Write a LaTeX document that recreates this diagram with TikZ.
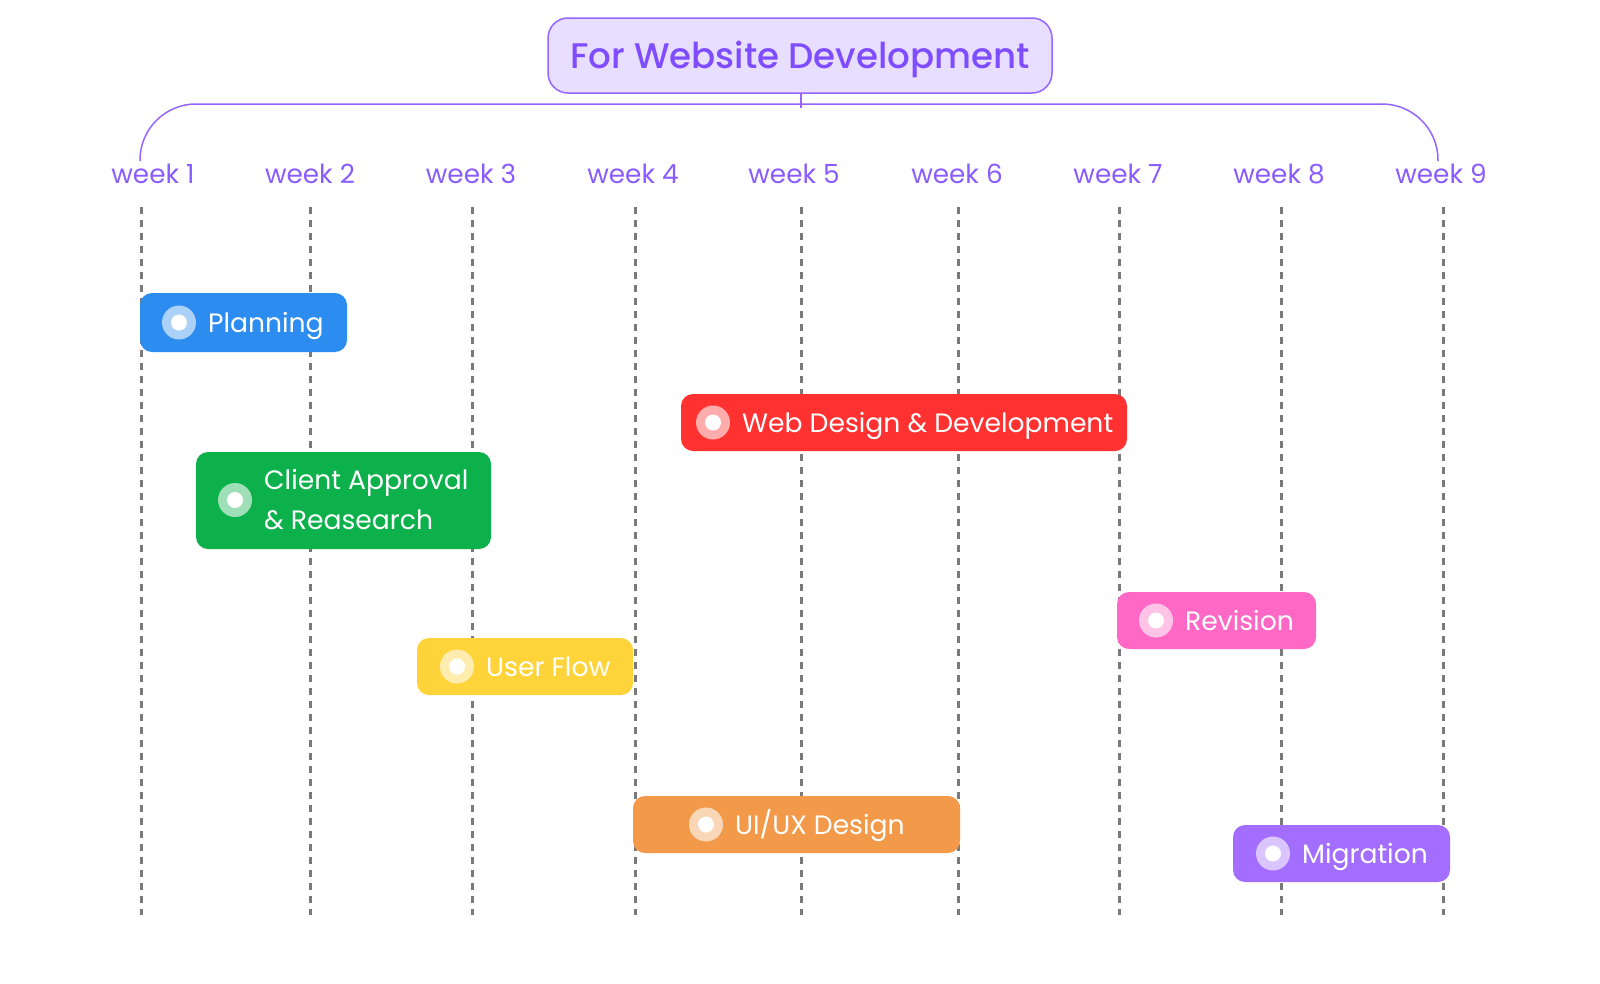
\documentclass[tikz,border=0pt]{standalone}
\usepackage{fontspec}
\setmainfont{Poppins}
\newfontfamily\titlefont{Poppins}[UprightFont=* Medium]
\definecolor{tpurple}{HTML}{7F4DFF}
\definecolor{tfill}{HTML}{E8DEFF}
\definecolor{tline}{HTML}{9466FF}
\definecolor{wk}{HTML}{8A5CFF}
\definecolor{gridc}{HTML}{7A7A7A}
\definecolor{cblue}{HTML}{2D8CF0}
\definecolor{cred}{HTML}{FF3131}
\definecolor{cgreen}{HTML}{0DB14B}
\definecolor{cpink}{HTML}{FF69C5}
\definecolor{cyellow}{HTML}{FFD43B}
\definecolor{corange}{HTML}{F29A4A}
\definecolor{cpurple}{HTML}{A36EFF}
\newcommand\taskbar[9]{%
  \node[bar, fill=#6, minimum width={#4-#2}, minimum height={#5-#3}] (#1) at ({(#2+#4)/2},{(#3+#5)/2}) {};
  \node[ring] (#1-r) at (#7,{(#3+#5)/2}) {};
  \node[dot] (#1-d) at (#1-r) {};
  \node[lbl] (#1-t) at (#8,{(#3+#5)/2+9.5}) {#9};
}
\begin{document}
\begin{tikzpicture}[x=1pt,y=-1pt,
  bar/.style={draw=none, rounded corners=12pt, inner sep=0pt},
  ring/.style={circle, fill=white, fill opacity=0.6, minimum size=34pt, inner sep=0pt},
  dot/.style={circle, fill=white, minimum size=16pt, inner sep=0pt},
  lbl/.style={anchor=base west, inner sep=0pt, text=white, font=\fontsize{26.6}{31}\selectfont},
  wklbl/.style={anchor=base, inner sep=0pt, text=wk, font=\fontsize{26.3}{31}\selectfont},
  gridline/.style={draw=gridc, line width=3pt, dash pattern=on 7pt off 6pt},
  brace/.style={draw=tline, line width=1.5pt}]
\useasboundingbox (0,0) rectangle (1600,983);
\fill[white] (0,0) rectangle (1600,983);
% title
\node[draw=tline, fill=tfill, line width=1.5pt, rounded corners=20pt, minimum width=504pt, minimum height=75pt, inner sep=0pt] (title) at (800,55.5) {};
\node[anchor=base, inner sep=0pt, text=tpurple, font=\titlefont\fontsize{35.6}{40}\selectfont] (title-t) at (800,68) {For Website Development};
% bracket
\coordinate (bl) at (140,161);
\coordinate (br) at (1438,161);
\coordinate (bm) at (801,104);
\draw[brace, rounded corners=56pt] (bl) |- (bm) -| (br);
\draw[brace] (title.south -| bm) -- ++(0,14);
% grid lines and week labels
\foreach \x/\lx [count=\i] in {141/153,310/310,472/471,635/633,801/794,958/957,1119/1118,1281/1279,1443/1441} {
  \coordinate (g\i t) at (\x,207);
  \coordinate (g\i b) at (\x,915);
  \draw[gridline] (g\i t) -- (g\i b);
  \node[wklbl] (w\i) at (\lx,183) {week \i};
}
% task bars
\taskbar{plan}{140}{293}{347}{352}{cblue}{179}{208}{Planning}
\taskbar{web}{681}{394}{1127}{451}{cred}{713}{742}{Web Design \& Development}
\taskbar{rev}{1117}{592}{1316}{649}{cpink}{1156}{1185}{Revision}
\taskbar{flow}{417}{638}{633}{695}{cyellow}{457}{486}{User Flow}
\taskbar{uiux}{633}{796}{960}{853}{corange}{706}{735}{UI/UX Design}
\taskbar{mig}{1233}{825}{1450}{882}{cpurple}{1273}{1302}{Migration}
% client approval (two lines)
\node[bar, fill=cgreen, minimum width=295pt, minimum height=97pt] (client) at (343.5,500.5) {};
\node[ring] (client-r) at (235,500) {};
\node[dot] (client-d) at (client-r) {};
\node[anchor=west, inner sep=0pt, text=white, align=left, font=\fontsize{26.6}{40}\selectfont] (client-t) at (264,500) {Client Approval\\\& Reasearch};
\end{tikzpicture}
\end{document}
